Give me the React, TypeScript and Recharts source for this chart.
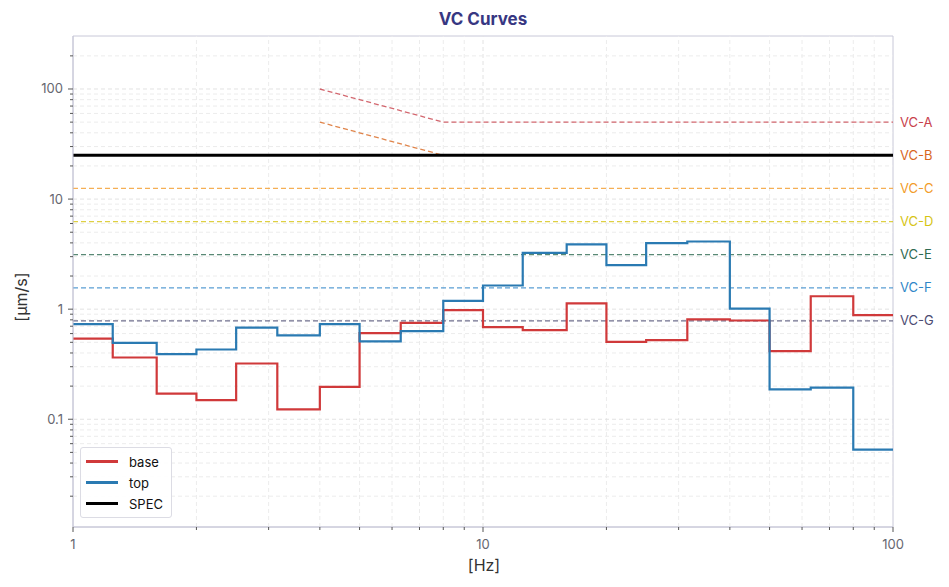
import React from 'react';
import { ComposedChart, Line, XAxis, YAxis, ReferenceLine, ReferenceArea } from 'recharts';

// 1/3 octave band edges [Hz] and band values [µm/s]
const bandEdges = [1, 1.25, 1.6, 2, 2.5, 3.15, 4, 5, 6.3, 8, 10, 12.5, 16, 20, 25, 31.5, 40, 50, 63, 80, 100];
const baseVals = [0.54, 0.364, 0.171, 0.149, 0.321, 0.123, 0.197, 0.605, 0.751, 0.98, 0.686, 0.644, 1.13, 0.505, 0.523, 0.808, 0.789, 0.415, 1.31, 0.882];
const topVals = [0.731, 0.494, 0.39, 0.43, 0.681, 0.577, 0.731, 0.51, 0.631, 1.19, 1.64, 3.25, 3.87, 2.51, 3.98, 4.12, 1.01, 0.187, 0.194, 0.053];

const specLevel = 25;

const vcNames = ['VC-A', 'VC-B', 'VC-C', 'VC-D', 'VC-E', 'VC-F', 'VC-G'];
const vcLevels = [50, 25, 12.5, 6.25, 3.125, 1.5625, 0.78125];
const vcStart = [4, 4, 1, 1, 1, 1, 1];
const vcColors = ['#c8414b', '#d8661e', '#f29b2a', '#d6c414', '#2f6b52', '#2f86c8', '#4b4b72'];

const xMajor = [1, 10, 100];
const xMinor = [2, 3, 4, 5, 6, 7, 8, 9, 20, 30, 40, 50, 60, 70, 80, 90];
const yMajor = [0.1, 1, 10, 100];
const yMinor = [0.02, 0.03, 0.04, 0.05, 0.06, 0.07, 0.08, 0.09, 0.2, 0.3, 0.4, 0.5, 0.6, 0.7, 0.8, 0.9, 2, 3, 4, 5, 6, 7, 8, 9, 20, 30, 40, 50, 60, 70, 80, 90, 200];

const X_DOMAIN = [1, 100];
const Y_DOMAIN = [0.0105, 303];

const bandData = bandEdges.map((f, i) => ({
  f,
  base: baseVals[Math.min(i, baseVals.length - 1)],
  top: topVals[Math.min(i, topVals.length - 1)],
}));

const specData = [{ f: 1, v: specLevel }, { f: 100, v: specLevel }];

// VC-A / VC-B fall as 1/f below 8 Hz, flat above
const vcData = vcLevels.map((lvl, i) =>
  vcStart[i] === 4
    ? [{ f: 4, v: lvl * 2 }, { f: 8, v: lvl }, { f: 100, v: lvl }]
    : [{ f: 1, v: lvl }, { f: 100, v: lvl }]
);

const FONT = 'Inter, "DejaVu Sans", sans-serif';
const TICK_COLOR = '#666670';
const FRAME = '#c8c8d8';

const XTick = (props: any) => {
  const { x, y, payload } = props;
  const major = xMajor.includes(payload.value);
  return (
    <g>
      <line x1={x} x2={x} y1={y} y2={y + (major ? 5 : 3)} stroke="#555" strokeWidth={1} />
      {major && (
        <text x={x} y={y + 22} textAnchor="middle" fill={TICK_COLOR} fontSize={13} fontFamily={FONT}>
          {String(payload.value)}
        </text>
      )}
    </g>
  );
};

const YTick = (props: any) => {
  const { x, y, payload } = props;
  const major = yMajor.includes(payload.value);
  return (
    <g>
      <line x1={x} x2={x - (major ? 5 : 3)} y1={y} y2={y} stroke="#555" strokeWidth={1} />
      {major && (
        <text x={x - 10} y={y + 4.5} textAnchor="end" fill={TICK_COLOR} fontSize={13} fontFamily={FONT}>
          {String(payload.value)}
        </text>
      )}
    </g>
  );
};

const vcLabel = (name: string, color: string, last: number) => (props: any) => {
  const { x, y, index } = props;
  if (index !== last) return null;
  return (
    <text x={x + 7} y={y + 4.5} fill={color} fontSize={13} fontFamily={FONT}>
      {name}
    </text>
  );
};

const legendItems = [
  { name: 'base', color: '#d0393a', width: 2.5 },
  { name: 'top', color: '#2a7ab2', width: 2.5 },
  { name: 'SPEC', color: '#000000', width: 3 },
];

export default function App() {
  return (
    <div style={{ position: 'absolute', left: 0, top: 0, width: 949, height: 587, background: '#fff', fontFamily: FONT }}>
      <div style={{ position: 'absolute', left: 0, width: 966, top: 9, textAlign: 'center', fontSize: 17, fontWeight: 700, color: '#373782' }}>
        VC Curves
      </div>
      <ComposedChart width={949} height={587} data={bandData} margin={{ top: 36, right: 56, bottom: 0, left: 13 }}>
        <XAxis
          dataKey="f"
          type="number"
          scale="log"
          domain={X_DOMAIN}
          allowDataOverflow
          ticks={[...xMajor, ...xMinor].sort((a, b) => a - b)}
          interval={0}
          tick={<XTick />}
          tickLine={false}
          tickSize={0}
          tickMargin={0}
          axisLine={{ stroke: FRAME }}
          height={60}
        />
        <YAxis
          type="number"
          scale="log"
          domain={Y_DOMAIN}
          allowDataOverflow
          ticks={[...yMajor, ...yMinor].sort((a, b) => a - b)}
          interval={0}
          tick={<YTick />}
          tickLine={false}
          tickSize={0}
          tickMargin={0}
          axisLine={{ stroke: FRAME }}
          width={60}
        />
        {xMinor.concat([10]).map((v) => (
          <ReferenceLine key={'gx' + v} x={v} stroke={v === 10 ? '#e2e2e2' : '#ececec'} strokeDasharray="4 3" />
        ))}
        {yMinor.concat(yMajor).map((v) => (
          <ReferenceLine key={'gy' + v} y={v} stroke={yMajor.includes(v) ? '#e2e2e2' : '#ececec'} strokeDasharray="4 3" />
        ))}
        <ReferenceArea x1={1} x2={100} y1={Y_DOMAIN[0]} y2={Y_DOMAIN[1]} fill="none" stroke={FRAME} strokeWidth={1} />
        {vcData.map((d, i) => (
          <Line
            key={vcNames[i]}
            data={d}
            dataKey="v"
            type="linear"
            stroke={vcColors[i]}
            strokeOpacity={0.8}
            strokeWidth={1.3}
            strokeDasharray="5 3"
            dot={false}
            activeDot={false}
            isAnimationActive={false}
            label={vcLabel(vcNames[i], vcColors[i], d.length - 1)}
          />
        ))}
        <Line data={specData} dataKey="v" type="linear" stroke="#000" strokeWidth={3} dot={false} activeDot={false} isAnimationActive={false} />
        <Line dataKey="base" type="stepAfter" stroke="#d0393a" strokeWidth={2.2} dot={false} activeDot={false} isAnimationActive={false} />
        <Line dataKey="top" type="stepAfter" stroke="#2a7ab2" strokeWidth={2.2} dot={false} activeDot={false} isAnimationActive={false} />
      </ComposedChart>
      <div style={{ position: 'absolute', left: 484 - 60, width: 120, top: 555, textAlign: 'center', fontSize: 16, color: '#333' }}>
        [Hz]
      </div>
      <div
        style={{
          position: 'absolute',
          left: 22 - 60,
          top: 297 - 11,
          width: 120,
          height: 22,
          textAlign: 'center',
          fontSize: 16,
          color: '#333',
          transform: 'rotate(-90deg)',
        }}
      >
        [µm/s]
      </div>
      <div
        style={{
          position: 'absolute',
          left: 80,
          top: 447,
          width: 90,
          padding: '3px 0',
          border: '1px solid #dcdce4',
          borderRadius: 3,
          background: 'rgba(255,255,255,0.9)',
        }}
      >
        {legendItems.map((it) => (
          <div key={it.name} style={{ display: 'flex', alignItems: 'center', height: 21, fontSize: 13, color: '#111' }}>
            <div style={{ marginLeft: 5, width: 32, height: it.width, background: it.color }} />
            <span style={{ marginLeft: 11 }}>{it.name}</span>
          </div>
        ))}
      </div>
    </div>
  );
}
